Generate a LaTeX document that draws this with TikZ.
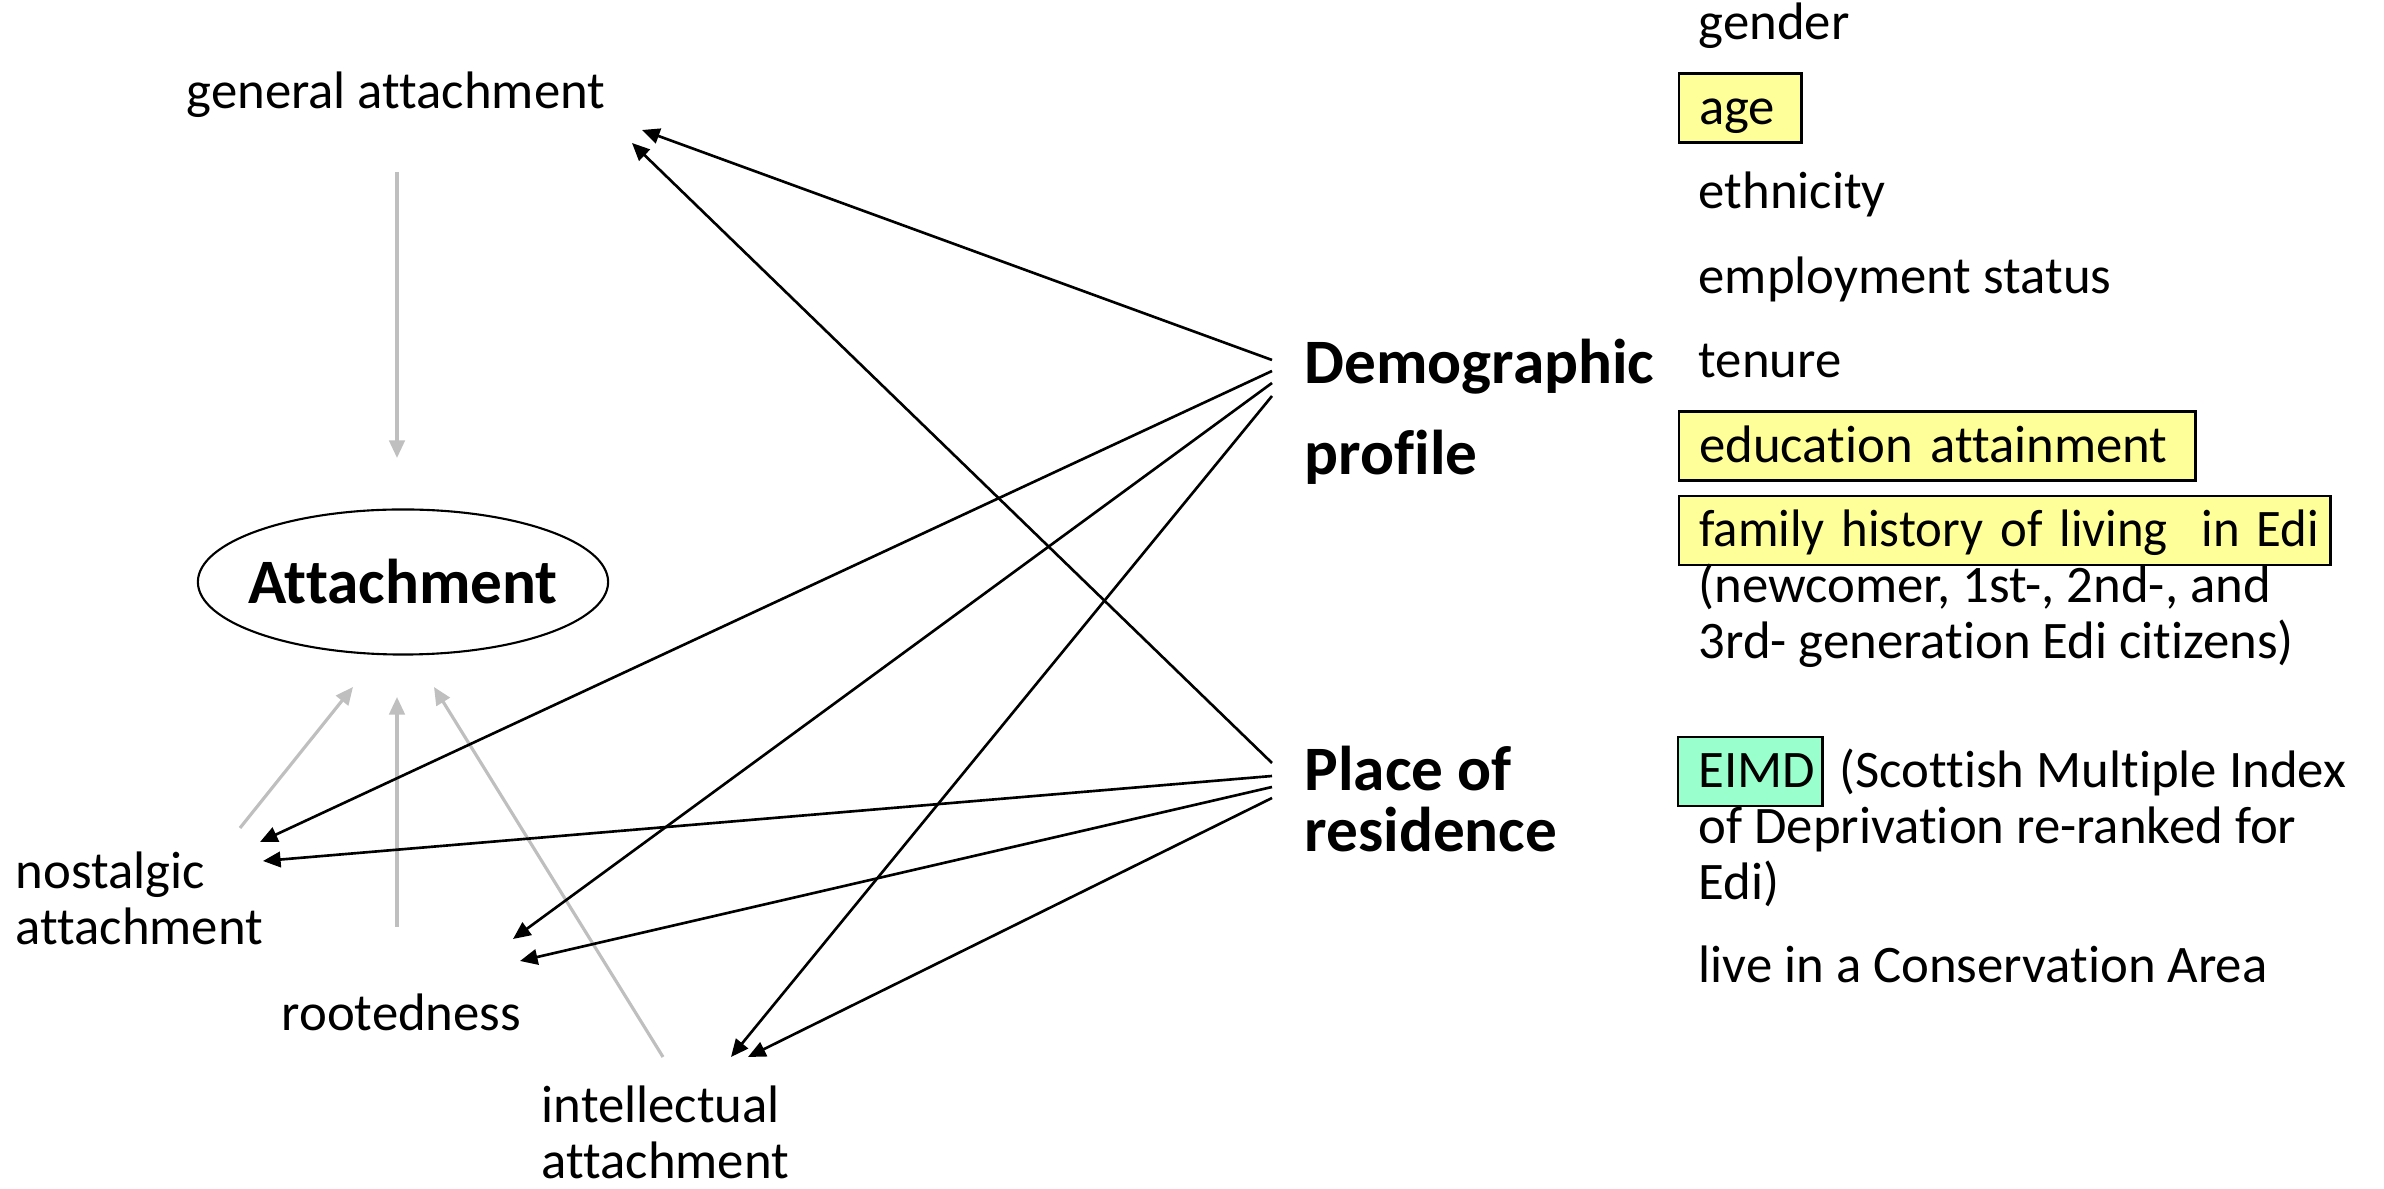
\documentclass[tikz,border=0pt]{standalone}
\usepackage{fontspec}
\setmainfont[Ligatures={NoCommon}]{Carlito}
\usetikzlibrary{arrows.meta,shapes.geometric}
\definecolor{hlyellow}{HTML}{FFFF99}
\definecolor{hlgreen}{HTML}{99FFCC}
\definecolor{lgray}{HTML}{BFBFBF}
\begin{document}
\begin{tikzpicture}[x=0.01cm,y=-0.01cm,
  lbl/.style={inner sep=0pt, anchor=base west, align=left, font=\fontsize{15}{15.93}\selectfont},
  hdrA/.style={inner sep=0pt, anchor=base west, align=left, font=\fontsize{18}{25.9}\selectfont\bfseries},
  hdrB/.style={inner sep=0pt, anchor=base west, align=left, font=\fontsize{18}{17.6}\selectfont\bfseries},
  hbox/.style={draw=black, line width=0.7pt, inner xsep=0.2cm, inner ysep=0pt, text height=0.51cm, text depth=0.18cm, anchor=base west, align=left, font=\fontsize{15}{16}\selectfont},
  blk/.style={-{Triangle[length=5pt,width=4.4pt]}, line width=0.75pt, black},
  gry/.style={-{Triangle[length=5pt,width=4.4pt]}, line width=0.9pt, lgray},
]
\useasboundingbox (0,0) rectangle (2384,1189);

% right column (multi-line nodes: base = last line)
\node[lbl] (gender) at (1698,40) {gender};
\node[hbox, fill=hlyellow, text width=0.82cm] (age) at (1678,124.5) {\rlap{age}};
\node[lbl] (ethnicity) at (1698,209) {ethnicity};
\node[lbl] (employment) at (1698,293.5) {employment status};
\node[lbl] (tenure) at (1698,378) {tenure};
\node[hbox, fill=hlyellow, text width=4.76cm] (education) at (1678,462.5) {\rlap{education attainment}};
\node[hbox, fill=hlyellow, text width=6.11cm] (family) at (1678,547) {\rlap{\scalebox{0.962}[1]{family history of living\ \ in Edi}}};
\node[lbl] (generations) at (1698,659) {(newcomer, 1st-, 2nd-, and\\3rd- generation Edi citizens)};
\node[hbox, fill=hlgreen, text width=1.04cm] (eimd) at (1677,788) {\rlap{EIMD}};
\node[lbl] (scottish) at (1839,788) {(Scottish Multiple Index};
\node[lbl] (deprivation) at (1698,900) {of Deprivation re-ranked for\\Edi)};
\node[lbl] (conservation) at (1698,983) {live in a Conservation Area};

% headers
\node[hdrA] (demo) at (1304,475) {Demographic\\profile};
\node[hdrB] (place) at (1304,852) {Place of\\residence};

% left side
\node[lbl] (general) at (186,109) {general attachment};
\node[draw, line width=0.6pt, ellipse, minimum width=4.1cm, minimum height=1.45cm, inner sep=0pt, font=\fontsize{18}{20}\selectfont\bfseries] (attach) at (403,582) {\makebox[0pt]{Attachment}};
\node[lbl] (nostalgic) at (15,945) {nostalgic\\attachment};
\node[lbl] (rooted) at (281,1031) {rootedness};
\node[lbl] (intellectual) at (541,1179) {intellectual\\attachment};

% connector end points
\coordinate (dA) at (1272,360);
\coordinate (dB) at (1272,371);
\coordinate (dC) at (1272,383);
\coordinate (dD) at (1272,396);
\coordinate (pA) at (1272,763);
\coordinate (pB) at (1272,776);
\coordinate (pC) at (1272,787);
\coordinate (pD) at (1272,798);
\coordinate (gA) at (642,130);
\coordinate (gB) at (632,143);
\coordinate (nA) at (260,842);
\coordinate (nB) at (263,861);
\coordinate (rA) at (513,939);
\coordinate (rB) at (520,961);
\coordinate (iA) at (731,1057);
\coordinate (iB) at (748,1057);

\coordinate (gOut) at (397,172);
\coordinate (aIn) at (397,458);
\coordinate (nOut) at (240,828);
\coordinate (aL) at (353,687);
\coordinate (rOut) at (397,927);
\coordinate (aM) at (397,697);
\coordinate (iOut) at (663,1057);
\coordinate (aR) at (434,687);

% gray arrows
\draw[gry] (gOut) -- (aIn);
\draw[gry] (nOut) -- (aL);
\draw[gry] (rOut) -- (aM);
\draw[gry] (iOut) -- (aR);

% black arrows
\draw[blk] (dA) -- (gA);
\draw[blk] (dB) -- (nA);
\draw[blk] (dC) -- (rA);
\draw[blk] (dD) -- (iA);
\draw[blk] (pA) -- (gB);
\draw[blk] (pB) -- (nB);
\draw[blk] (pC) -- (rB);
\draw[blk] (pD) -- (iB);
\end{tikzpicture}
\end{document}
